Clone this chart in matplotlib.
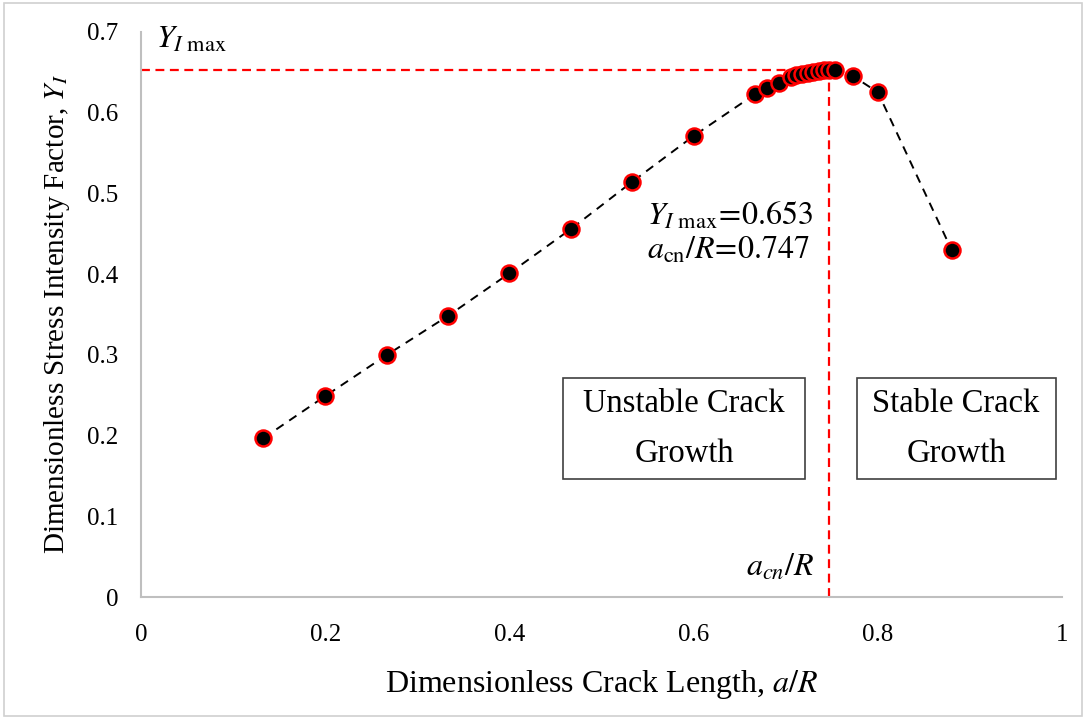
import matplotlib
matplotlib.use("Agg")
import matplotlib.pyplot as plt
from matplotlib.patches import Rectangle

plt.rcParams["font.family"] = ["Liberation Serif", "DejaVu Serif"]
plt.rcParams["mathtext.fontset"] = "stix"

# crack length ratio a/R and dimensionless SIF Y_I
a_R = [0.133, 0.200, 0.267, 0.333, 0.400, 0.467, 0.533, 0.600, 0.667, 0.680, 0.693,
       0.706, 0.711, 0.718, 0.724, 0.730, 0.736, 0.742, 0.747, 0.753,
       0.773, 0.800, 0.880]
Y_I = [0.197, 0.249, 0.300, 0.348, 0.401, 0.456, 0.514, 0.571, 0.623, 0.630, 0.637,
       0.644, 0.646, 0.648, 0.649, 0.650, 0.651, 0.652, 0.653, 0.653,
       0.645, 0.625, 0.430]
Y_max = 0.653
acn_R = 0.747

xticks = [0, 0.2, 0.4, 0.6, 0.8, 1]
xticklabels = ["0", "0.2", "0.4", "0.6", "0.8", "1"]
yticks = [0, 0.1, 0.2, 0.3, 0.4, 0.5, 0.6, 0.7]
yticklabels = ["0", "0.1", "0.2", "0.3", "0.4", "0.5", "0.6", "0.7"]

fig = plt.figure(figsize=(10.86, 7.19), dpi=100)
ax = fig.add_axes([0.1298, 0.1693, 0.8482, 0.7866])

ax.plot(a_R, Y_I, ls=(0, (4.5, 3.5)), color="black", lw=1.4, zorder=3)
ax.plot(a_R, Y_I, ls="none", marker="o", ms=11.5, mfc="black", mec="red", mew=1.8, zorder=4)

# critical point guides
ax.plot([0, acn_R], [Y_max, Y_max], color="red", ls=(0, (4, 2.5)), lw=1.6, zorder=2)
ax.plot([acn_R, acn_R], [0, Y_max], color="red", ls=(0, (4, 2.5)), lw=1.6, zorder=2)

ax.set_xlim(0, 1)
ax.set_ylim(0, 0.7)
ax.set_xticks(xticks)
ax.set_xticklabels(xticklabels)
ax.set_yticks(yticks)
ax.set_yticklabels(yticklabels)
ax.tick_params(length=0, labelsize=18)
ax.tick_params(axis="x", pad=19)
ax.tick_params(axis="y", pad=16)
for s in ("top", "right"):
    ax.spines[s].set_visible(False)
for s in ("left", "bottom"):
    ax.spines[s].set_color("#BFBFBF")
    ax.spines[s].set_linewidth(1.5)

ax.set_xlabel(r"Dimensionless Crack Length, $a/R$", fontsize=23, labelpad=16)
ax.set_ylabel(r"Dimensionless Stress Intensity Factor, $Y_I$", fontsize=21, labelpad=11)

ax.text(0.016, 0.690, r"$Y_{I\ \mathrm{max}}$", fontsize=23, ha="left", va="center")
ax.text(0.549, 0.472, r"$Y_{I\ \mathrm{max}}\!=\!0.653$", fontsize=23, ha="left", va="center")
ax.text(0.549, 0.429, r"$a_{\mathrm{cn}}/R\!=\!0.747$", fontsize=23, ha="left", va="center")
ax.text(0.731, 0.036, r"$a_{cn}/R$", fontsize=23, ha="right", va="center")

# region boxes
for x0, x1, lines in [(0.458, 0.721, ("Unstable Crack", "Growth")),
                      (0.777, 0.993, ("Stable Crack", "Growth"))]:
    ax.add_patch(Rectangle((x0, 0.146), x1 - x0, 0.125, fill=False, ec="#404040", lw=1.2,
                           zorder=5, clip_on=False))
    ax.text((x0 + x1) / 2, 0.240, lines[0], fontsize=23.5, ha="center", va="center")
    ax.text((x0 + x1) / 2, 0.178, lines[1], fontsize=23.5, ha="center", va="center")

fig.patches.append(Rectangle((0.004, 0.004), 0.992, 0.992, transform=fig.transFigure,
                             fill=False, ec="#D0D0D0", lw=1.2))

fig.savefig("out.png", dpi=100)
